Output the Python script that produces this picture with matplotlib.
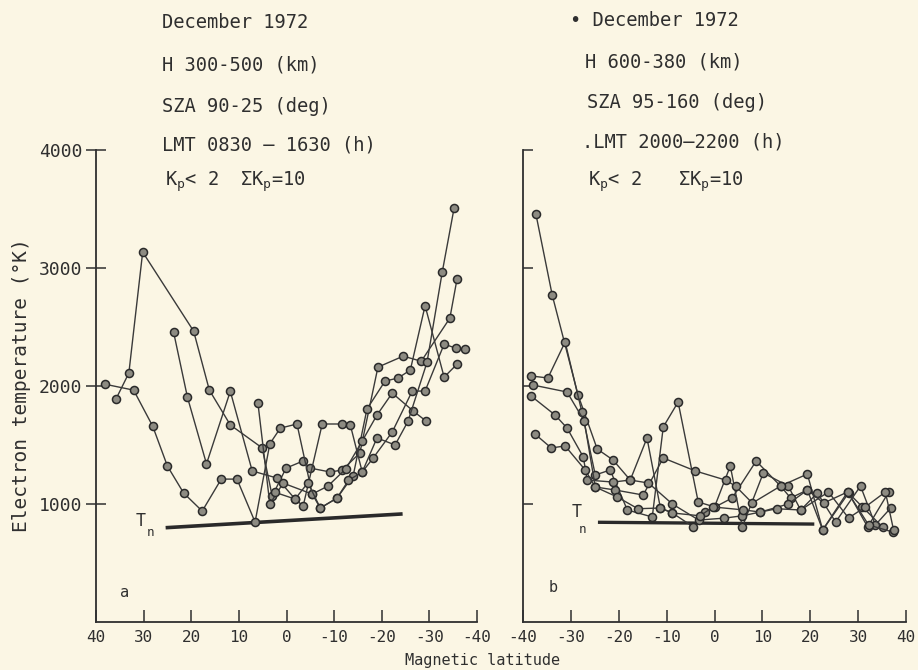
import matplotlib.pyplot as plt

plt.rcParams['font.family'] = ['DejaVu Sans Mono']
plt.rcParams['mathtext.default'] = 'regular'

BG = '#fbf6e4'
INK = '#2f2f2f'

# ---------------- panel a (day) : magnetic latitude vs Te ----------------
a1_lat = [35.8, 33.1, 30.2, 19.5, 16.2, 11.8, 5.1, 3.0, 0.1, -3.4, -5.0, -9.2, -11.7, -15.4, -19.2, -24.5, -28.3, -34.3, -35.8]
a1_te = [1890, 2110, 3135, 2465, 1965, 1670, 1475, 1067, 1304, 1363, 1304, 1271, 1288, 1432, 2160, 2253, 2210, 2575, 2905]

a2_lat = [38.1, 32.1, 28.1, 25.0, 21.6, 17.7, 13.7, 10.4, 6.6, 3.5, 1.3, -2.2, -5.4, -7.1, -10.6, -14.0, -16.9, -20.7, -23.4, -26.0, -29.1, -33.1, -35.8]
a2_te = [2015, 1965, 1660, 1321, 1093, 940, 1211, 1211, 847, 1510, 1643, 1678, 1084, 966, 1050, 1240, 1805, 2042, 2067, 2135, 2680, 2075, 2185]

a3_lat = [23.7, 20.8, 16.8, 11.8, 7.2, 2.0, -1.8, -3.5, -7.5, -11.7, -13.4, -15.9, -18.2, -22.2, -26.4, -29.1, -33.1, -35.6, -37.4]
a3_te = [2455, 1905, 1340, 1955, 1280, 1220, 1042, 983, 1678, 1678, 1670, 1271, 1390, 1610, 1957, 1957, 2355, 2320, 2310]

a4_lat = [6.0, 3.5, 0.7, -5.4, -8.7, -12.5, -15.9, -19.0, -22.2, -26.6, -29.3]
a4_te = [1855, 1000, 1177, 1084, 1152, 1300, 1534, 1754, 1940, 1788, 1703]

a5_lat = [2.5, -1.8, -4.5, -7.1, -10.6, -13.0, -15.9, -19.0, -22.8, -25.5, -29.5, -32.7, -35.2]
a5_te = [1100, 1042, 1180, 966, 1050, 1200, 1271, 1560, 1500, 1700, 2200, 2965, 3510]

tn_a_lat = [25, -24]
tn_a_te = [800, 915]

# ---------------- panel b (night) ----------------
b1_lat = [-37.3, -33.9, -28.5, -24.5, -21.2, -17.6, -14.1, -11.3, -8.8, -4.4, -1.9, 3.7, 8.7, 13.8, 19.4, 22.6, 28.0, 32.0, 36.4]
b1_te = [3456, 2771, 1924, 1466, 1373, 1203, 1559, 966, 924, 805, 932, 1051, 1364, 1152, 1254, 780, 1093, 805, 1102]

b2_lat = [-38.3, -34.8, -31.2, -27.7, -24.9, -21.8, -18.2, -13.0, -10.7, -7.6, -3.4, 0.0, 3.3, 5.8, 10.2, 15.4, 18.0, 21.5, 25.3, 30.5, 33.6, 36.8]
b2_te = [2085, 2068, 2373, 1780, 1246, 1288, 949, 890, 1653, 1864, 1017, 975, 1322, 805, 1263, 1152, 949, 1093, 847, 1152, 822, 966]

b3_lat = [-37.9, -30.8, -27.2, -24.9, -20.8, -14.9, -10.7, -4.0, 2.3, 4.4, 7.9, 13.8, 15.9, 19.4, 22.8, 27.8, 30.9, 35.1]
b3_te = [2008, 1949, 1703, 1144, 1119, 1076, 1390, 1280, 1203, 1152, 1008, 1152, 1051, 1119, 1008, 1102, 975, 805]

b4_lat = [-38.3, -33.3, -30.8, -27.4, -26.6, -21.2, -17.6, -13.8, -8.8, -3.3, 2.0, 5.8, 9.6, 15.4, 19.4, 22.6, 27.8, 32.2, 37.2]
b4_te = [1915, 1754, 1644, 1398, 1203, 1186, 1203, 1178, 1000, 864, 880, 900, 932, 1000, 1119, 780, 1102, 822, 763]

b5_lat = [-37.5, -34.1, -31.2, -27.0, -24.9, -20.3, -16.0, -11.3, -8.8, -3.0, -0.3, 6.0, 9.6, 13.0, 18.0, 23.8, 28.0, 31.5, 35.7, 37.4]
b5_te = [1593, 1475, 1492, 1288, 1144, 1059, 960, 966, 924, 900, 975, 950, 932, 960, 949, 1102, 881, 975, 1102, 780]

tn_b_lat = [-24, 20.5]
tn_b_te = [845, 830]

lat_ticks = [40, 30, 20, 10, 0, -10, -20, -30, -40]
te_ticks = [1000, 2000, 3000, 4000]

fig = plt.figure(figsize=(9.18, 6.70), dpi=100, facecolor=BG)
ax_a = fig.add_axes([96/918, 48/670, 381/918, 472/670], facecolor=BG)
ax_b = fig.add_axes([523/918, 48/670, 383/918, 472/670], facecolor=BG)

style = dict(color='#3a3a3a', lw=1.0, marker='o', ms=5.8, mfc='#8d8b82',
             mec='#2a2a2a', mew=1.1, clip_on=False, zorder=3)

for lat, te in [(a1_lat, a1_te), (a2_lat, a2_te), (a3_lat, a3_te),
                (a4_lat, a4_te), (a5_lat, a5_te)]:
    ax_a.plot(lat, te, **style)
ax_a.plot(tn_a_lat, tn_a_te, color='#2a2a2a', lw=2.6, zorder=2)

for lat, te in [(b1_lat, b1_te), (b2_lat, b2_te), (b3_lat, b3_te),
                (b4_lat, b4_te), (b5_lat, b5_te)]:
    ax_b.plot(lat, te, **style)
ax_b.plot(tn_b_lat, tn_b_te, color='#2a2a2a', lw=2.4, zorder=2)

for ax in (ax_a, ax_b):
    ax.set_ylim(0, 4000)
    for s in ('top', 'right'):
        ax.spines[s].set_visible(False)
    for s in ('left', 'bottom'):
        ax.spines[s].set_color(INK)
        ax.spines[s].set_linewidth(1.3)
    ax.set_yticks(te_ticks)
    ax.tick_params(axis='x', direction='in', length=9, width=1.1, pad=6,
                   labelsize=11.5, colors=INK)

ax_a.set_xlim(40, -40)
ax_a.set_xticks(lat_ticks)
ax_a.set_xticklabels([str(v) for v in lat_ticks])
ax_a.set_yticklabels([str(v) for v in te_ticks])
ax_a.tick_params(axis='y', direction='inout', length=14, width=1.1, pad=3,
                 labelsize=13, colors=INK)

ax_b.set_xlim(-40, 40)
ax_b.set_xticks(lat_ticks[::-1])
ax_b.set_xticklabels([str(v) for v in lat_ticks[::-1]])
ax_b.set_yticklabels([])
ax_b.tick_params(axis='y', direction='in', length=7, width=1.1, colors=INK)

# T_n labels and panel letters
ax_a.text(30.6, 860, 'T', fontsize=12, color=INK, ha='center', va='center')
ax_a.text(28.6, 760, 'n', fontsize=9, color=INK, ha='center', va='center')
ax_b.text(-28.8, 930, 'T', fontsize=12, color=INK, ha='center', va='center')
ax_b.text(-27.5, 780, 'n', fontsize=9, color=INK, ha='center', va='center')
ax_a.text(33.9, 250, 'a', fontsize=11, color=INK, ha='center', va='center')
ax_b.text(-33.7, 290, 'b', fontsize=11, color=INK, ha='center', va='center')

def ftext(x, y, s, **kw):
    fig.text(x/918, 1 - y/670, s, fontsize=13.5, color=INK, va='center', **kw)

ftext(162, 23, 'December 1972')
ftext(162, 65, 'H 300-500 (km)')
ftext(162, 107, 'SZA 90-25 (deg)')
ftext(162, 145, 'LMT 0830 \u2014 1630 (h)')
ftext(165, 182, r'K$_{p}$< 2')
ftext(240, 182, '\u03a3' + r'K$_{p}$=10')

ftext(570, 20, '\u2022 December 1972')
ftext(585, 62, 'H 600-380 (km)')
ftext(587, 102, 'SZA 95-160 (deg)')
ftext(582, 142, '.LMT 2000\u20142200 (h)')
ftext(588, 182, r'K$_{p}$< 2')
ftext(678, 182, '\u03a3' + r'K$_{p}$=10')

fig.text(22/918, 1 - 385/670, 'Electron temperature (\u00b0K)', rotation=90,
         fontsize=14, color=INK, ha='center', va='center')
fig.text(405/918, 1 - 661/670, 'Magnetic latitude', fontsize=11,
         color=INK, ha='left', va='center')

fig.savefig('out.png', dpi=100, facecolor=BG)
